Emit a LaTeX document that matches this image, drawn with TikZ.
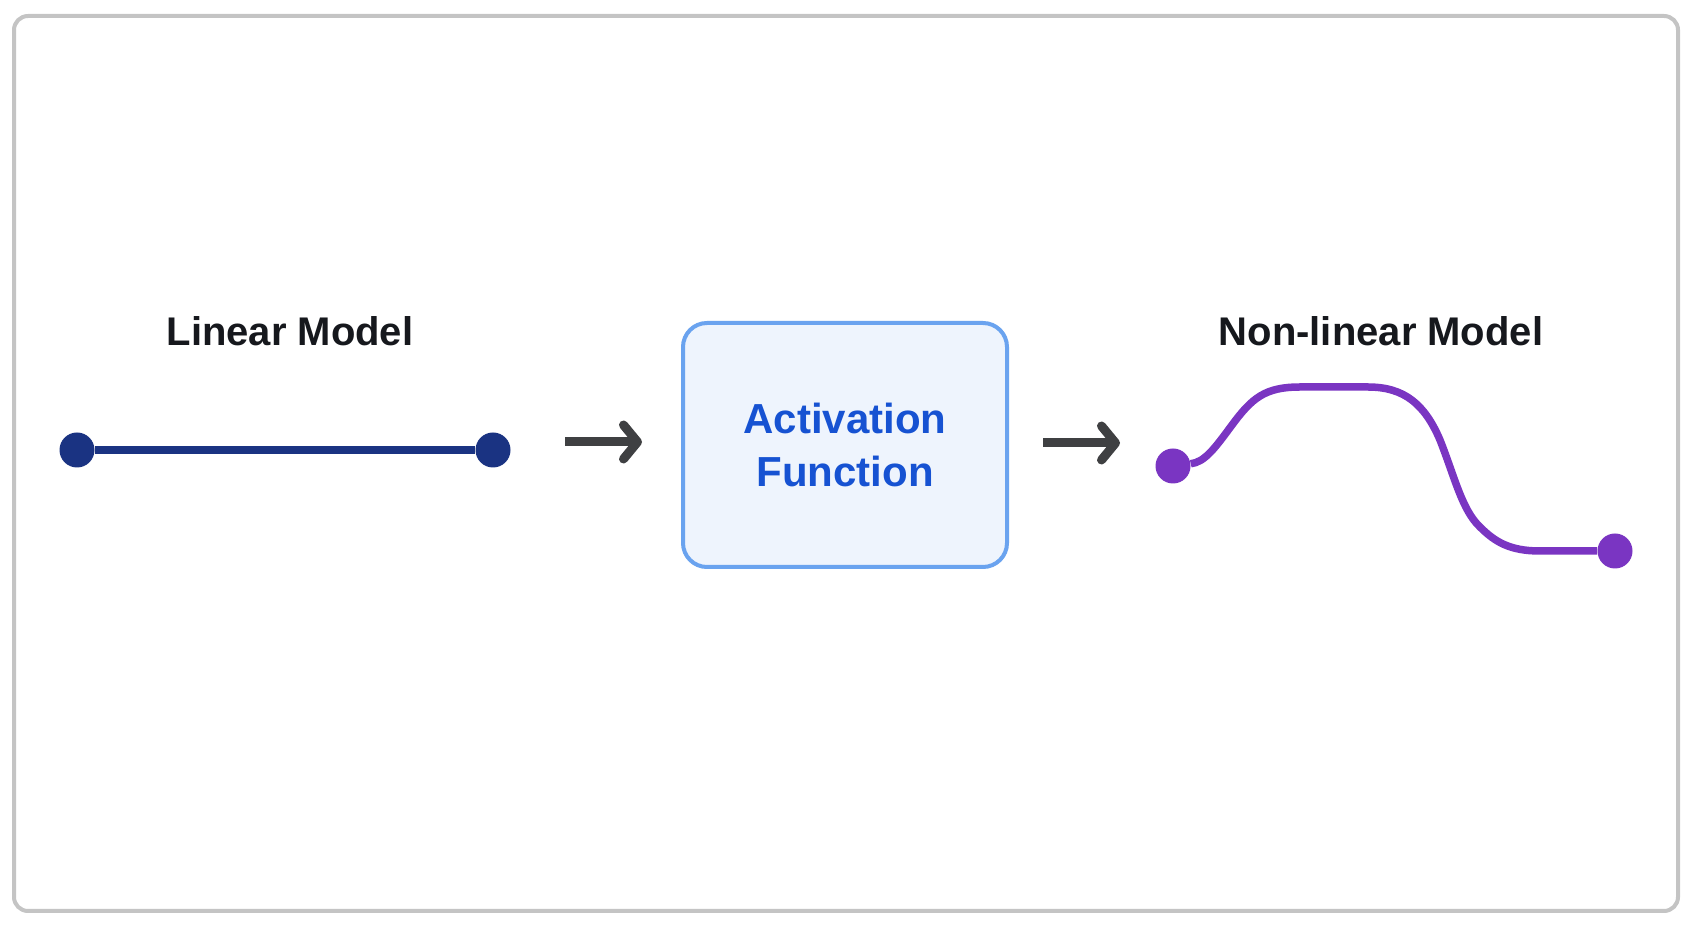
\documentclass[tikz,border=0pt]{standalone}
\usepackage{fontspec}
\setmainfont{Liberation Sans}
\usetikzlibrary{arrows.meta,calc,positioning}
\definecolor{FrameGray}{HTML}{C4C4C4}
\definecolor{LinBlue}{HTML}{1A3382}
\definecolor{BoxEdge}{HTML}{6AA3EF}
\definecolor{BoxFill}{HTML}{EEF4FD}
\definecolor{BoxText}{HTML}{1652D2}
\definecolor{CurvePurple}{HTML}{7A35C2}
\definecolor{ArrowGray}{HTML}{3F4042}
\definecolor{TitleBlack}{HTML}{16181D}

\begin{document}
\begin{tikzpicture}[x=0.5pt,y=-0.5pt,
  every node/.style={align=center,font=\bfseries\fontsize{20}{26.5}\selectfont},
  title/.style={text=TitleBlack},
  dot/.style={circle,fill=#1,minimum size=17.5pt,inner sep=0pt},
  flow/.style={draw=ArrowGray,line width=4.5pt,-{Straight Barb[round,length=7pt,width=17pt]}}]
\useasboundingbox (0,0) rectangle (1693,929);
\draw [FrameGray,line width=2pt,rounded corners=7pt,fill=white] (14,16) rectangle (1678,911);
\node [title] (LinearTitle) at (290,331) {Linear Model};
\node [title] (NonLinTitle) at (1381,331) {Non-linear Model};
\node [draw=BoxEdge,fill=BoxFill,line width=2pt,rounded corners=12pt,minimum width=162pt,minimum height=122pt,text=BoxText,font=\bfseries\fontsize{21}{26.5}\selectfont] (ActFunc) at (845,445) {Activation\\Function};
% linear model
\node [dot=LinBlue] (LinearStart) at (77,450) {};
\node [dot=LinBlue] (LinearEnd) at (493,450) {};
\draw [LinBlue,line width=3.75pt] (LinearStart) -- (LinearEnd);
% arrows
\coordinate (ArrowInA) at (565,442);
\coordinate (ArrowInB) at (642,442);
\coordinate (ArrowOutA) at (1043,443);
\coordinate (ArrowOutB) at (1120,443);
\draw [flow] (ArrowInA) -- (ArrowInB);
\draw [flow] (ArrowOutA) -- (ArrowOutB);
% non-linear model
\node [dot=CurvePurple] (NonLinStart) at (1173,466) {};
\node [dot=CurvePurple] (NonLinEnd) at (1615,551) {};
\draw [CurvePurple,line width=3.75pt] (NonLinStart) .. controls (1205,462) and (1215,448) .. (1232,425)
  .. controls (1252,398) and (1265,387) .. (1300,387) -- (1368,387)
  .. controls (1405,387) and (1425,405) .. (1440,440)
  .. controls (1455,478) and (1462,510) .. (1480,527)
  .. controls (1495,542) and (1510,551) .. (1540,551) -- (NonLinEnd);
\end{tikzpicture}
\end{document}
